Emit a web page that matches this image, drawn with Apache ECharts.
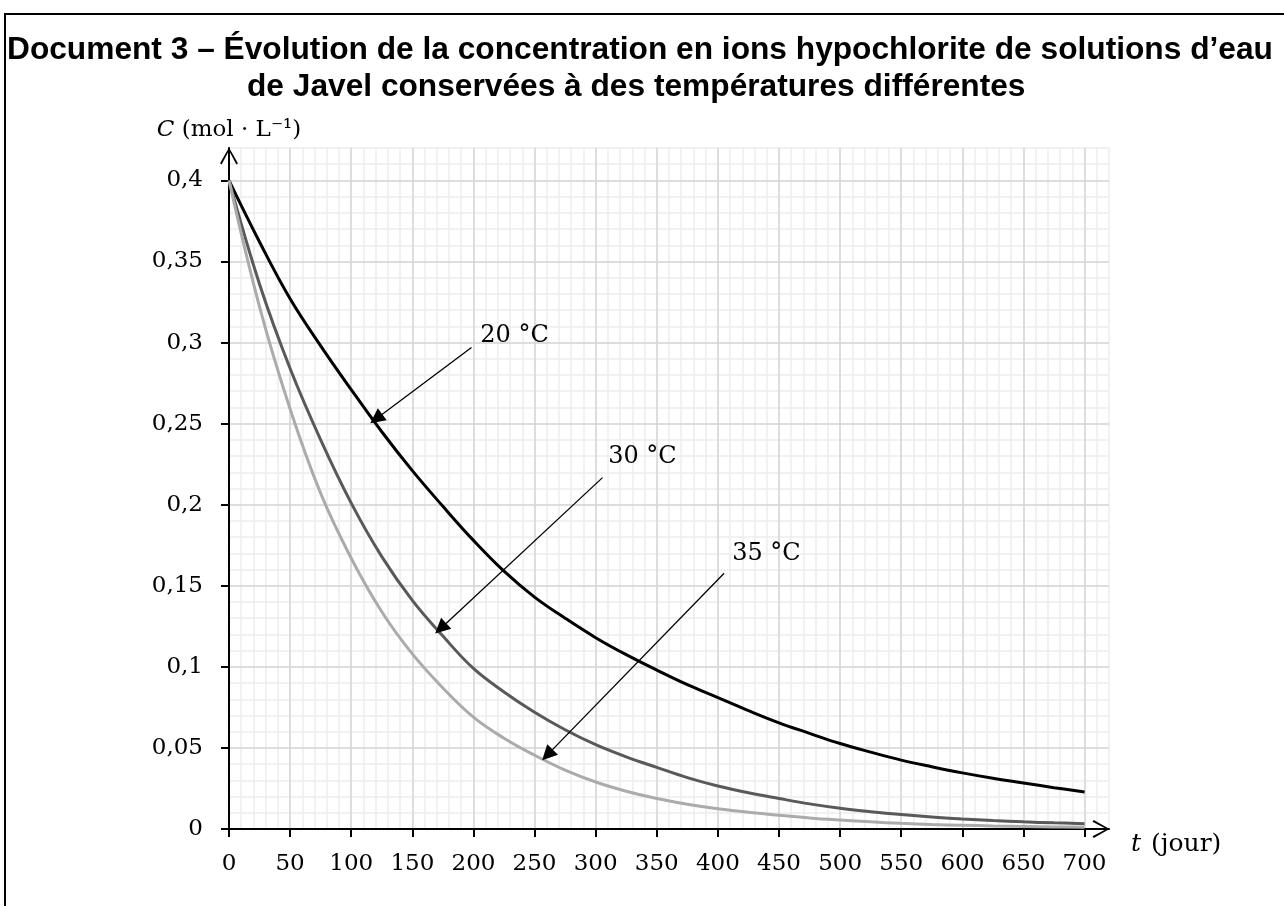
<!DOCTYPE html>
<html lang="fr">
<head>
<meta charset="UTF-8">
<title>Document 3 – Évolution de la concentration en ions hypochlorite</title>
<script src="https://cdn.jsdelivr.net/npm/echarts@6.0.0/dist/echarts.min.js"></script>
<style>
  html, body { margin: 0; padding: 0; background: #fff; }
  #chart { width: 1284px; height: 906px; }
</style>
</head>
<body>
<div id="chart"></div>
<script>
// t (jour)
var days = [0, 25, 50, 75, 100, 125, 150, 175, 200, 225, 250, 275, 300, 325, 350, 375, 400,
    425, 450, 475, 500, 525, 550, 575, 600, 625, 650, 675, 700];
// C (mol/L)
var conc20 = [0.4, 0.362, 0.327, 0.298, 0.271, 0.245, 0.221, 0.199, 0.178, 0.159, 0.143, 0.130, 0.118,
    0.1075, 0.098, 0.089, 0.081, 0.073, 0.0655, 0.059, 0.0527, 0.0474, 0.0425, 0.0384, 0.0346, 0.0313,
    0.0284, 0.0255, 0.0228];
var conc30 = [0.4, 0.336, 0.284, 0.240, 0.201, 0.168, 0.141, 0.119, 0.099, 0.0845, 0.072, 0.0612, 0.052,
    0.0445, 0.038, 0.0317, 0.0265, 0.0223, 0.0188, 0.0155, 0.0128, 0.0107, 0.0089, 0.0074, 0.0062, 0.0052,
    0.0044, 0.0038, 0.0033];
var conc35 = [0.4, 0.322, 0.259, 0.207, 0.167, 0.134, 0.108, 0.087, 0.069, 0.056, 0.0455, 0.0363, 0.029,
    0.0233, 0.0188, 0.0153, 0.0125, 0.0103, 0.0085, 0.0068, 0.0055, 0.0044, 0.0035, 0.0028, 0.0023, 0.0019,
    0.0016, 0.0013, 0.0011];

var xTicks = [0, 50, 100, 150, 200, 250, 300, 350, 400, 450, 500, 550, 600, 650, 700];
var yTicks = [0, 0.05, 0.1, 0.15, 0.2, 0.25, 0.3, 0.35, 0.4];
var yTickLabels = ['0', '0,05', '0,1', '0,15', '0,2', '0,25', '0,3', '0,35', '0,4'];

function pairs(values) {
    return days.map(function (t, i) { return [t, values[i]]; });
}

var serif = 'DejaVu Serif';
// flèche ouverte au bout des axes
var chevron = 'path://M50,0 L100,88 L91,95 L50,17 L9,95 L0,88 Z';

function arrow(from, to) {
    return {
        silent: true,
        symbol: ['none', 'triangle'],
        symbolSize: 15,
        label: {show: false},
        lineStyle: {color: '#000', width: 1.3, type: 'solid'},
        emphasis: {disabled: true},
        data: [[{coord: from}, {coord: to}]]
    };
}

function tag(name, at) {
    return {
        silent: true,
        symbol: 'circle',
        symbolSize: 1,
        itemStyle: {color: 'rgba(0,0,0,0)'},
        label: {
            show: true, position: 'right', distance: 0, formatter: '{b}',
            fontFamily: serif, fontSize: 24, color: '#000'
        },
        data: [{name: name, coord: at}]
    };
}

var chart = echarts.init(document.getElementById('chart'));

chart.setOption({
    animation: false,
    backgroundColor: '#fff',
    title: [{
        text: 'Document 3 – Évolution de la concentration en ions hypochlorite de solutions d’eau',
        left: 7, top: 34, padding: 0,
        textStyle: {fontFamily: 'Liberation Sans', fontWeight: 'bold', fontSize: 31.7, color: '#000'}
    }, {
        text: 'de Javel conservées à des températures différentes',
        left: 247, top: 71, padding: 0,
        textStyle: {fontFamily: 'Liberation Sans', fontWeight: 'bold', fontSize: 31.7, color: '#000'}
    }],
    graphic: [{
        type: 'polyline',
        shape: {points: [[5, 906], [5, 14], [1284, 14]]},
        style: {stroke: '#000', lineWidth: 2, fill: null}
    }],
    grid: {left: 229, top: 148, right: 175, bottom: 77, outerBoundsMode: 'none'},
    xAxis: [{
        type: 'value', min: 0, max: 720, interval: 50, z: 1,
        name: '{i|t} (jour)', nameLocation: 'end', nameGap: 22, nameMoveOverlap: false,
        nameTextStyle: {
            fontFamily: serif, fontSize: 25, color: '#000', align: 'left', padding: [30, 0, 0, 0],
            rich: {i: {fontFamily: serif, fontStyle: 'italic', fontSize: 25, color: '#000', padding: [0, 2, 0, 0]}}
        },
        axisLine: {
            show: true, onZero: false,
            lineStyle: {color: '#000', width: 2},
            symbol: ['none', chevron], symbolSize: [18, 17], symbolOffset: [0, -8]
        },
        axisTick: {show: true, customValues: xTicks, length: 8, lineStyle: {color: '#000', width: 2}},
        axisLabel: {customValues: xTicks, margin: 24, fontFamily: serif, fontSize: 23, color: '#000'},
        splitLine: {show: true, lineStyle: {color: '#d6d6d6', width: 1.5}}
    }, {
        type: 'value', gridIndex: 0, min: 0, max: 720, interval: 10, z: 0,
        axisLine: {show: false}, axisTick: {show: false}, axisLabel: {show: false},
        splitLine: {show: true, lineStyle: {color: '#ededed', width: 1.5}}
    }],
    yAxis: [{
        type: 'value', min: 0, max: 0.42, interval: 0.05, z: 1,
        name: '{i|C} (mol · L⁻¹)', nameLocation: 'end', nameGap: 6, nameMoveOverlap: false,
        nameTextStyle: {
            fontFamily: serif, fontSize: 23, color: '#000',
            rich: {i: {fontFamily: serif, fontStyle: 'italic', fontSize: 23, color: '#000'}}
        },
        axisLine: {
            show: true, onZero: false,
            lineStyle: {color: '#000', width: 2},
            symbol: ['none', chevron], symbolSize: [18, 17], symbolOffset: [0, -8]
        },
        axisTick: {show: true, customValues: yTicks, length: 8, lineStyle: {color: '#000', width: 2}},
        axisLabel: {
            customValues: yTicks, margin: 26, fontFamily: serif, fontSize: 23, color: '#000',
            formatter: function (v) { return yTickLabels[Math.round(v / 0.05)]; }
        },
        splitLine: {show: true, lineStyle: {color: '#d6d6d6', width: 1.5}}
    }, {
        type: 'value', gridIndex: 0, min: 0, max: 0.42, interval: 0.01, z: 0,
        axisLine: {show: false}, axisTick: {show: false}, axisLabel: {show: false},
        splitLine: {show: true, lineStyle: {color: '#ededed', width: 1.5}}
    }],
    series: [{
        name: '20 °C', type: 'line', smooth: 0.4, showSymbol: false, z: 3,
        data: pairs(conc20),
        lineStyle: {color: '#000000', width: 3},
        markLine: arrow([198.4, 0.2969], [120.5, 0.2530]),
        markPoint: tag('20 °C', [205.2, 0.3041])
    }, {
        name: '30 °C', type: 'line', smooth: 0.4, showSymbol: false, z: 3,
        data: pairs(conc30),
        lineStyle: {color: '#595959', width: 3},
        markLine: arrow([305.6, 0.2167], [173.2, 0.1237]),
        markPoint: tag('30 °C', [309.8, 0.2294])
    }, {
        name: '35 °C', type: 'line', smooth: 0.4, showSymbol: false, z: 3,
        data: pairs(conc35),
        lineStyle: {color: '#ababab', width: 3},
        markLine: arrow([405.1, 0.1577], [260.5, 0.0457]),
        markPoint: tag('35 °C', [411.3, 0.1696])
    }]
});
</script>
</body>
</html>
